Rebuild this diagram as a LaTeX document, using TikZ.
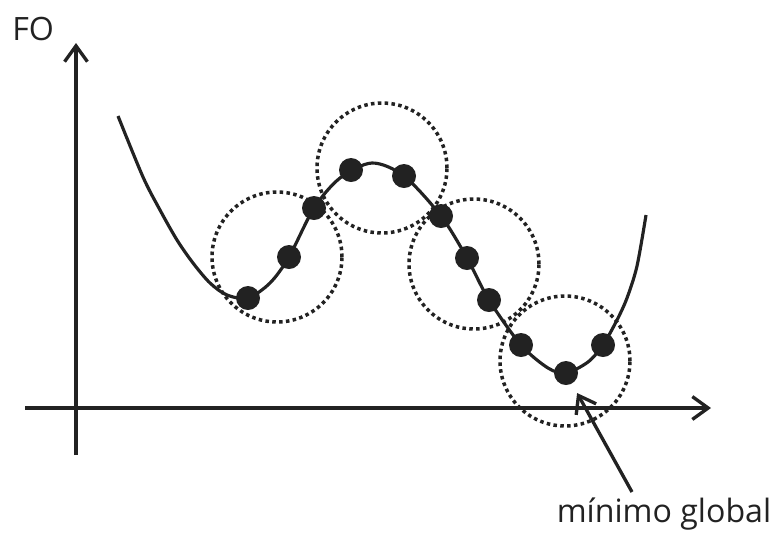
\documentclass[tikz,border=0pt]{standalone}
\usepackage{fontspec}
\setmainfont{Open Sans}
\usetikzlibrary{arrows.meta}
\definecolor{ink}{HTML}{222222}
\begin{document}
\begin{tikzpicture}[x=0.02cm,y=-0.02cm,
  axis/.style={draw=ink,line width=1.9pt,-{Straight Barb[length=9pt,width=13pt,line width=1.9pt]}},
  curve/.style={draw=ink,line width=1.8pt},
  pt/.style={circle,fill=ink,inner sep=0pt,minimum size=0.48cm},
  zone/.style={circle,draw=ink,line width=2pt,dash pattern=on 2pt off 1.9pt,inner sep=0pt,minimum size=2.6cm},
  lbl/.style={font=\fontsize{18.3}{20}\selectfont,text=ink,inner sep=0pt}]
\useasboundingbox (0,0) rectangle (780,532);
% axes
\coordinate (xs) at (25,408);
\coordinate (xe) at (711,408);
\coordinate (ys) at (76,455);
\coordinate (ye) at (76,43);
\draw[axis] (xs) -- (xe);
\draw[axis] (ys) -- (ye);
\node[lbl,anchor=base west] (fo) at (12,40) {FO};
% dotted neighbourhoods
\node[zone] (z1) at (277,257) {};
\node[zone] (z2) at (382,168) {};
\node[zone] (z3) at (474,264) {};
\node[zone] (z4) at (565,361) {};
% curve
\draw[curve] plot[smooth,tension=0.5] coordinates {(118,116) (143,177) (160,210) (177,240) (193,263) (210,283) (227,295) (248,298) (270,283) (289,257) (314,208) (340,178) (372,163) (404,176) (441,216) (467,258) (489,300) (521,345) (548,368) (566,373) (588,362) (603,345) (617,320) (627,298) (637,266) (646,215)};
% points
\node[pt] (p1) at (248,298) {};
\node[pt] (p2) at (289,257) {};
\node[pt] (p3) at (314,208) {};
\node[pt] (p4) at (351,170) {};
\node[pt] (p5) at (404,176) {};
\node[pt] (p6) at (441,216) {};
\node[pt] (p7) at (467,258) {};
\node[pt] (p8) at (489,300) {};
\node[pt] (p9) at (521,345) {};
\node[pt] (p10) at (566,373) {};
\node[pt] (p11) at (603,345) {};
% annotation
\node[lbl,anchor=base] (mg) at (664,522) {mínimo global};
\coordinate (tail) at (632,492);
\draw[axis,shorten >=6pt] (tail) -- (p10);
\end{tikzpicture}
\end{document}
